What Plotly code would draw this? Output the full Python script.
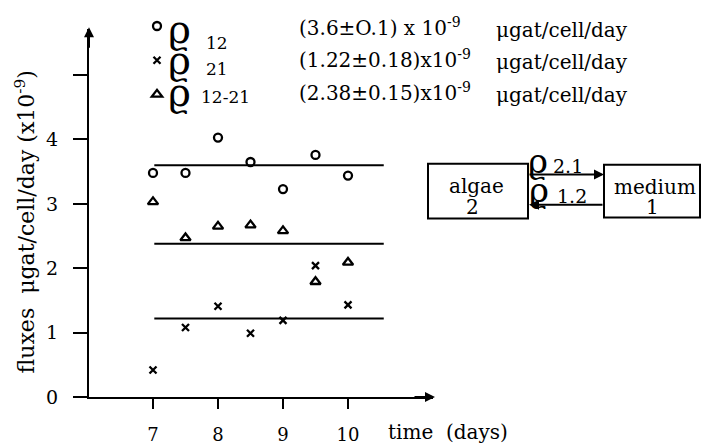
import plotly.graph_objects as go

# ---- data ----
days = [7, 7.5, 8, 8.5, 9, 9.5, 10]
rho_12 = [3.48, 3.48, 4.03, 3.65, 3.23, 3.76, 3.44]
rho_21 = [0.42, 1.08, 1.41, 0.99, 1.19, 2.04, 1.43]
rho_12_21 = [3.03, 2.47, 2.65, 2.67, 2.58, 1.79, 2.09]
mean_values = [3.6, 1.22, 2.38]
mean_span = [7.02, 10.55]
x_ticks = [7, 8, 9, 10]
y_ticks = [0, 1, 2, 3, 4, 5]
y_ticktext = ["0", "1", "2", "3", "4", ""]
legend_subs = ["12", "21", "12-21"]
value_texts = ["(3.6±O.1) x 10<sup>-9</sup>", "(1.22±0.18)x10<sup>-9</sup>", "(2.38±0.15)x10<sup>-9</sup>"]
unit_text = "μgat/cell/day"

W, H = 702, 447
def P(px):
    return px / W
def Q(py):
    return 1 - py / H

FONT = "DejaVu Serif"
RHO = "ϱ"
BLACK = "black"

fig = go.Figure()

series = [(rho_12, "circle-open", 8), (rho_21, "x-thin-open", 7), (rho_12_21, "triangle-up-open", 9)]
for i, (vals, sym, sz) in enumerate(series):
    fig.add_trace(go.Scatter(
        x=days, y=vals, mode="markers", name=" ", legendgroup=str(i),
        marker=dict(symbol=sym, size=sz, color=BLACK, line=dict(width=2.3, color=BLACK)),
        cliponaxis=False,
    ))

for m in mean_values:
    fig.add_trace(go.Scatter(x=mean_span, y=[m, m], mode="lines", showlegend=False,
                             line=dict(color=BLACK, width=2)))

# axis pixel layout
x0px, x1px, y0px, y1px = 89, 433, 407, 30
def t_of(px):
    return 7 + (px - 153) / 65.0
def v_of(py):
    return (407 - py) / 66.0

fig.update_layout(
    width=W, height=H, margin=dict(l=0, r=0, t=0, b=0),
    plot_bgcolor="white", paper_bgcolor="white",
    font=dict(family=FONT, size=20, color=BLACK),
    showlegend=True,
    legend=dict(x=P(137), y=Q(4), xanchor="left", yanchor="top", bgcolor="rgba(0,0,0,0)",
                font=dict(family=FONT, size=24), traceorder="grouped", tracegroupgap=0,
                itemwidth=30),
    xaxis=dict(domain=[P(x0px), P(x1px)], range=[t_of(x0px), t_of(x1px)],
               tickvals=x_ticks, ticks="outside", ticklen=10, tickwidth=2, tickcolor=BLACK,
               showline=True, linewidth=2, linecolor=BLACK, showgrid=False, zeroline=False,
               ticklabelstandoff=10, tickfont=dict(family=FONT, size=18)),
    yaxis=dict(domain=[Q(y0px), Q(y1px)], range=[v_of(y0px), v_of(y1px)],
               tickvals=y_ticks, ticktext=y_ticktext, ticks="outside", ticklen=14, tickwidth=2,
               tickcolor=BLACK, showline=True, linewidth=2, linecolor=BLACK, showgrid=False,
               zeroline=False, ticklabelstandoff=11, tickfont=dict(family=FONT, size=19)),
)

def txt(px, py, text, size, xa="center", ya="middle", family=FONT, angle=0):
    return dict(x=P(px), y=Q(py), xref="paper", yref="paper", showarrow=False, text=text,
                xanchor=xa, yanchor=ya, textangle=angle, font=dict(family=family, size=size))

def arrow(px, py, ax, ay):
    return dict(x=P(px), y=Q(py), xref="paper", yref="paper", ax=ax, ay=ay, showarrow=True,
                arrowhead=2, arrowwidth=2, arrowsize=1, arrowcolor=BLACK, text="")

ann = []
# axis arrows
ann.append(arrow(89, 28, 0, 22))
ann.append(arrow(435, 407, -22, 0))
# axis titles
ann.append(txt(25, 228, "fluxes  μgat/cell/day (x10<sup>-9</sup>)", 22, angle=-90))
ann.append(txt(386, 429, "time  (days)", 20, xa="left", ya="top"))
# legend rho symbols and subscripts
rho_y = [30, 62, 95]
sub_y = [44, 71, 99]
sub_x = [204, 204, 199]
for i in range(3):
    ann.append(txt(180, rho_y[i], RHO, 39))
    ann.append(txt(sub_x[i], sub_y[i], legend_subs[i], 17, xa="left"))
# legend value text
rows_y = [28, 61, 94]
for i, ry in enumerate(rows_y):
    ann.append(txt(297, ry, value_texts[i], 20, xa="left"))
    ann.append(txt(494, ry + 3, unit_text, 20, xa="left"))

# compartment diagram
shapes = [
    dict(type="rect", xref="paper", yref="paper", x0=P(428), x1=P(528), y0=Q(224), y1=Q(168),
         line=dict(color=BLACK, width=2)),
    dict(type="rect", xref="paper", yref="paper", x0=P(604), x1=P(700), y0=Q(223), y1=Q(169),
         line=dict(color=BLACK, width=2)),
]
ann.append(arrow(604, 179, -76, 0))
ann.append(arrow(529, 210, 75, 0))
ann.append(txt(538, 165, RHO, 34))
ann.append(txt(551, 170, "2.1", 19, xa="left"))
ann.append(txt(539, 195, RHO, 34))
ann.append(txt(555, 201, "1.2", 19, xa="left"))
ann.append(txt(476, 191, "algae", 20))
ann.append(txt(472, 212, "2", 20))
ann.append(txt(655, 192, "medium", 20))
ann.append(txt(652, 212, "1", 20))

fig.update_layout(annotations=ann, shapes=shapes)
fig.write_html("out.html")
